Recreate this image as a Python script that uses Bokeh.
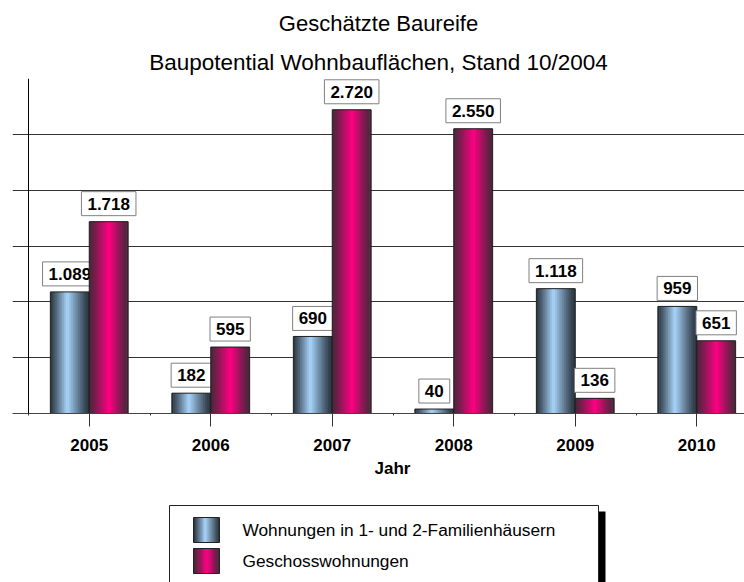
import numpy as np
from bokeh.plotting import figure
from bokeh.models import Range1d, FixedTicker, Title, Span
from bokeh.layouts import column
from bokeh.embed import file_html
from bokeh.resources import INLINE
from bokeh.core.properties import value

# ---- data ----
years = ["2005", "2006", "2007", "2008", "2009", "2010"]
einfamilien = [1089, 182, 690, 40, 1118, 959]
geschoss = [1718, 595, 2720, 2550, 136, 651]
einfamilien_labels = ["1.089", "182", "690", "40", "1.118", "959"]
geschoss_labels = ["1.718", "595", "2.720", "2.550", "136", "651"]
series_names = ["Wohnungen in 1- und 2-Familienhäusern", "Geschosswohnungen"]
y_ticks = [0, 500, 1000, 1500, 2000, 2500, 3000]

FONT = "Liberation Sans"
BAR_W = 0.32
N_STRIPS = 22


def hex_to_rgb(h):
    h = h.lstrip("#")
    return tuple(int(h[i:i + 2], 16) for i in (0, 2, 4))


def gradient(dark, light, peak, n):
    d_rgb, l_rgb = hex_to_rgb(dark), hex_to_rgb(light)
    cols = []
    for k in range(n):
        t = (k + 0.5) / n
        span = peak if t < peak else (1 - peak)
        d = min(1.0, abs(t - peak) / span)
        f = (1 - d) ** 1.1
        c = tuple(int(round(d_rgb[j] + (l_rgb[j] - d_rgb[j]) * f)) for j in range(3))
        cols.append("#%02x%02x%02x" % c)
    return cols


blue_grad = gradient("#27313b", "#a9d5fb", 0.45, N_STRIPS)
mag_grad = gradient("#452838", "#ff0082", 0.52, N_STRIPS)

idx = np.arange(len(years))

p = figure(width=744, height=480, title=None,
           x_range=Range1d(-0.6317, 5.393), y_range=Range1d(0, 3000),
           output_backend="svg", toolbar_location=None,
           min_border_left=12, min_border_right=0,
           min_border_top=0, min_border_bottom=0,
           outline_line_color=None)
p.background_fill_color = "white"
p.border_fill_color = "white"

# titles (later added sits higher)
p.add_layout(Title(text="Baupotential Wohnbauflächen, Stand 10/2004", align="center",
                   text_font=FONT, text_font_size="22.5px", text_font_style="normal",
                   text_color="black", standoff=8), "above")
p.add_layout(Title(text="Geschätzte Baureife", align="center",
                   text_font=FONT, text_font_size="22px", text_font_style="normal",
                   text_color="black", standoff=16), "above")

# y axis hidden: grid lines span the full frame (reaching left past the axis line)
p.yaxis.visible = False
p.ygrid.ticker = FixedTicker(ticks=y_ticks)
p.ygrid.grid_line_color = "#333333"
p.ygrid.grid_line_width = 1
p.xgrid.grid_line_color = None
p.add_layout(Span(location=-0.5, dimension="height", line_color="black", line_width=1))

p.xaxis.ticker = FixedTicker(ticks=list(idx), minor_ticks=list(idx - 0.5) + [len(years) - 0.5])
p.xaxis.major_label_overrides = {int(i): years[i] for i in idx}
p.xaxis.major_tick_out = 13
p.xaxis.major_tick_in = 0
p.xaxis.minor_tick_out = 2
p.xaxis.minor_tick_in = 0
p.xaxis.major_tick_line_color = "#333333"
p.xaxis.minor_tick_line_color = "#333333"
p.xaxis.axis_line_color = "#444444"
p.xaxis.major_label_text_font = FONT
p.xaxis.major_label_text_font_size = "17px"
p.xaxis.major_label_text_font_style = "bold"
p.xaxis.major_label_text_color = "black"
p.xaxis.major_label_standoff = 12

# axis title "Jahr" as a below-title, positioned under the (partly cropped) plot centre
p.add_layout(Title(text="Jahr", align="left", offset=362,
                   text_font=FONT, text_font_size="17px", text_font_style="bold",
                   text_color="black", standoff=6), "below")


def draw_series(values, labels, offset, grad):
    centers = idx + offset
    sw = BAR_W / N_STRIPS
    for k, col in enumerate(grad):
        p.vbar(x=centers - BAR_W / 2 + (k + 0.5) * sw, top=values, bottom=0,
               width=sw * 1.6 if 0 < k < N_STRIPS - 1 else sw, fill_color=col, line_color=None)
    p.vbar(x=centers, top=values, bottom=0, width=BAR_W,
           fill_color=None, line_color="#1e1e1e", line_width=1)
    p.text(x=centers, y=values, text=labels, text_align="center",
           text_baseline="bottom", y_offset=-6,
           text_font=value(FONT), text_font_style="bold", text_font_size="17px",
           text_color="black", background_fill_color="white",
           border_line_color="#808080", border_line_width=1, padding=6)


draw_series(einfamilien, einfamilien_labels, -BAR_W / 2, blue_grad)
draw_series(geschoss, geschoss_labels, BAR_W / 2, mag_grad)

# ---- legend figure (frame is aligned with the main frame: page x 12..744; page y = 480 + data y) ----
lf = figure(width=744, height=102, title=None, x_axis_type=None, y_axis_type=None,
            x_range=Range1d(12, 744), y_range=Range1d(102, 0),
            output_backend="svg", toolbar_location=None,
            min_border=0, min_border_left=12, min_border_right=0,
            min_border_top=0, min_border_bottom=0, outline_line_color=None)
lf.background_fill_color = "white"
lf.border_fill_color = "white"

lf.quad(left=[598], right=[605], top=[31], bottom=[120], fill_color="black", line_color=None)
lf.quad(left=[169], right=[598], top=[25], bottom=[120], fill_color="white",
        line_color="#222222", line_width=1)

sw_left, sw_w = 193, 26
sw_tops = [37, 68]
sw_h = 25
for gi, grad in enumerate([blue_grad, mag_grad]):
    w = sw_w / N_STRIPS
    lefts = [sw_left + k * w for k in range(N_STRIPS)]
    lf.quad(left=lefts, right=[l + w * 1.6 if k < N_STRIPS - 1 else l + w for k, l in enumerate(lefts)],
            top=[sw_tops[gi]] * N_STRIPS, bottom=[sw_tops[gi] + sw_h] * N_STRIPS,
            fill_color=grad, line_color=None)
    lf.quad(left=[sw_left], right=[sw_left + sw_w], top=[sw_tops[gi]],
            bottom=[sw_tops[gi] + sw_h], fill_color=None, line_color="#222222")

lf.text(x=[242, 242], y=[t + sw_h / 2 for t in sw_tops], text=series_names,
        text_baseline="middle", text_align="left",
        text_font=value(FONT), text_font_size="17.3px", text_color="black")

layout = column(p, lf, spacing=0)
open("out.html", "w").write(file_html(layout, INLINE))
